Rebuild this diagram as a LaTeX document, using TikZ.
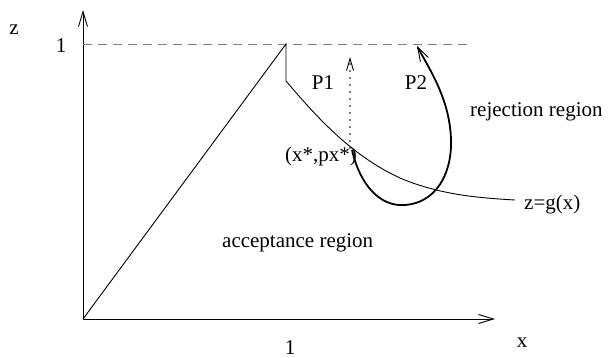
\documentclass[tikz,border=0pt]{standalone}
\usepackage{fontspec}
\setmainfont{Liberation Serif}
\usetikzlibrary{arrows.meta}
\tikzset{
  lbl/.style={inner sep=0pt, font=\fontsize{21}{24}\selectfont},
  axis/.style={line width=0.9pt, -{Straight Barb[length=15pt,width=9pt,line width=0.9pt]}},
  curve/.style={line width=0.9pt},
  path2/.style={line width=1.8pt, -{Straight Barb[length=14pt,width=9pt,line width=0.9pt]}},
  path1/.style={line width=1.8pt, line cap=round, dash pattern=on 0pt off 7pt,
                -{Straight Barb[length=12pt,width=7pt,line width=0.9pt]}},
  level/.style={line width=0.9pt, draw=black!50, dash pattern=on 9pt off 6pt},
}
\begin{document}
\begin{tikzpicture}[x=1pt, y=-1pt]
  \useasboundingbox (0,0) rectangle (610,358);
  % key points
  \coordinate (O)     at (83,319);
  \coordinate (ztip)  at (83,10);
  \coordinate (xtip)  at (495,319);
  \coordinate (peak)  at (286,44);
  \coordinate (kink)  at (286,81);
  \coordinate (xstar) at (350,148);
  \coordinate (gend)  at (515,200);
  \coordinate (lvl)   at (470,44);
  \coordinate (p1tip) at (350,57);
  \coordinate (p2tip) at (417,46);
  % labels
  \node[lbl, anchor=base] (zlbl)   at (14,35)  {z};
  \node[lbl, anchor=base] (zone)   at (61,53)  {1};
  \node[lbl, anchor=base] (xlbl)   at (522,347) {x};
  \node[lbl, anchor=base] (xone)   at (290,354) {1};
  \node[lbl, anchor=base] (pone)   at (323,90)  {P1};
  \node[lbl, anchor=base] (ptwo)   at (416,90)  {P2};
  \node[lbl, anchor=base west] (star)   at (285,162) {(x*,px*)};
  \node[lbl, anchor=base west] (accept) at (222,247) {acceptance region};
  \node[lbl, anchor=base west] (reject) at (470,117) {rejection region};
  \node[lbl, anchor=base west] (glbl)   at (524,209) {z=g(x)};
  % axes and level z=1
  \draw[axis] (O) -- (ztip);
  \draw[axis] (O) -- (xtip);
  \draw[level] (ztip |- peak) -- (lvl);
  % boundary g
  \draw[curve] (O) -- (peak) -- (kink)
    .. controls (315,115) and (350,155) .. (400,178)
    .. controls (440,195) and (480,198) .. (gend);
  % paths from (x*,px*)
  \draw[path1] (xstar) -- (p1tip);
  \draw[path2] (352,150) .. controls (360,185) and (380,207) .. (405,205)
    .. controls (435,203) and (452,175) .. (451,140)
    .. controls (450,100) and (430,70) .. (p2tip);
\end{tikzpicture}
\end{document}
